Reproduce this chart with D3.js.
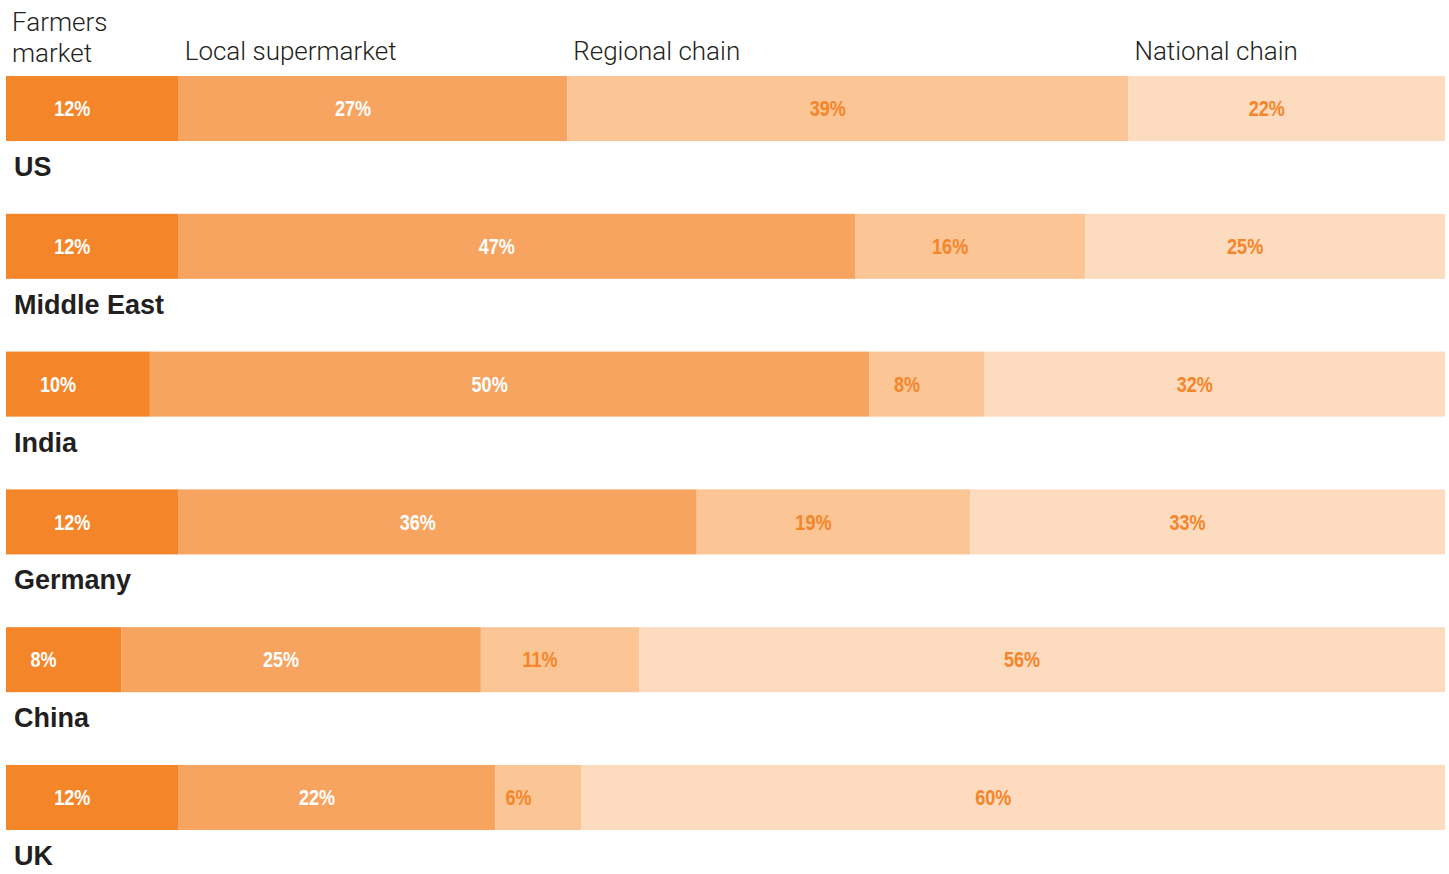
<!DOCTYPE html>
<html><head><meta charset="utf-8">
<script src="https://cdn.jsdelivr.net/npm/d3@7"></script>
<style>
html,body{margin:0;padding:0;background:#fff;}
svg{display:block;}
.hdr{font-family:Roboto,"Liberation Sans",sans-serif;font-weight:300;font-size:26px;fill:#231f20;}
.cty{font-family:"Liberation Sans",Arial,sans-serif;font-weight:bold;font-size:27px;fill:#231f20;}
.pct{font-family:"Liberation Sans",Arial,sans-serif;font-weight:bold;font-size:21.5px;}
</style></head><body>
<svg id="chart" width="1449" height="874"></svg>
<script>
const countries = ["US","Middle East","India","Germany","China","UK"];
const channels = ["Farmers market","Local supermarket","Regional chain","National chain"];
const farmersMarket   = [12,12,10,12,8,12];
const localSupermkt   = [27,47,50,36,25,22];
const regionalChain   = [39,16,8,19,11,6];
const nationalChain   = [22,25,32,33,56,60];
const colors = ["#f48529","#f7a461","#fbc595","#fddbbf"];
const textColors = ["#ffffff","#ffffff","#f48529","#f48529"];

const series = [farmersMarket, localSupermkt, regionalChain, nationalChain];
const table = countries.map((c,i)=>{const o={country:c}; channels.forEach((k,j)=>o[k]=series[j][i]); return o;});
const stacked = d3.stack().keys(channels)(table);

const svg = d3.select("#chart");
const x = d3.scaleLinear().domain([0,100]).range([6,1445]);
const y = d3.scaleBand().domain(countries).range([76, 830]).paddingInner(0.528).paddingOuter(0);
const bh = y.bandwidth();

const layers = svg.append("g").selectAll("g").data(stacked).join("g")
  .attr("fill",(d,i)=>colors[i]);
layers.selectAll("rect").data(d=>d).join("rect")
  .attr("x",d=>x(d[0])).attr("y",d=>y(d.data.country))
  .attr("width",d=>x(d[1])-x(d[0])).attr("height",bh);

const lbl = svg.append("g").selectAll("g").data(stacked).join("g")
  .attr("fill",(d,i)=>textColors[i]);
lbl.selectAll("text").data(d=>d).join("text").attr("class","pct")
  .attr("transform",d=>`translate(${(x(d[0])+x(d[1]))/2 - 20},${y(d.data.country)+bh/2}) scale(0.84,1)`)
  .attr("dy","0.36em").attr("text-anchor","middle")
  .text(d=>(d[1]-d[0])+"%");

svg.append("g").selectAll("text").data(countries).join("text").attr("class","cty")
  .attr("x",14).attr("y",d=>y(d)+bh+35).text(d=>d);

const hdr = svg.append("g");
stacked.forEach((s,i)=>{
  const hx = x(s[0][0])+6;
  const t = hdr.append("text").attr("class","hdr").attr("x",hx).attr("y",60);
  if(i===0){
    t.attr("y",31);
    t.append("tspan").attr("x",hx).text("Farmers");
    t.append("tspan").attr("x",hx).attr("dy",31).text("market");
  } else t.text(channels[i]);
});
</script></body></html>
